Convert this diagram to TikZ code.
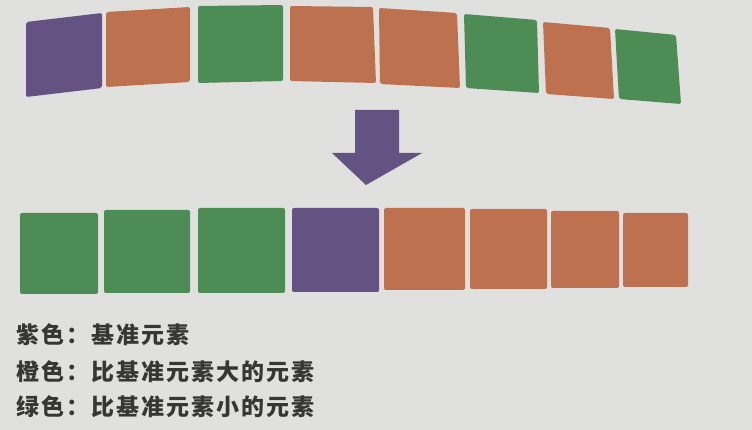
\documentclass[tikz,border=0pt]{standalone}
\usepackage{fontspec}
\newfontfamily\cjk[LetterSpace=9]{Noto Sans CJK SC}
\definecolor{pagegray}{HTML}{E0E0DE}
\definecolor{pivotpurple}{HTML}{635282}
\definecolor{bigorange}{HTML}{BD714E}
\definecolor{smallgreen}{HTML}{4D8C54}
\definecolor{inkgray}{HTML}{363634}
\begin{document}
\begin{tikzpicture}[x=1pt, y=-1pt,
					cell/.style={rounded corners=2pt},
					pivot/.style={cell, fill=pivotpurple},
					big/.style={cell, fill=bigorange},
					small/.style={cell, fill=smallgreen},
					legend/.style={anchor=west, inner sep=0pt, text=inkgray, font=\cjk\bfseries\fontsize{23}{27}\selectfont}]
	% page
	\fill[pagegray] (0,0) rectangle (752,430);
	% row before partition
	\foreach \tl/\tr/\br/\bl/\kind in {
		{26,22}/{102,13}/{102,88}/{26,97}/pivot,
		{106,12}/{190,7}/{190,82}/{106,87}/big,
		{198,6}/{283,5}/{283,81}/{198,83}/small,
		{290,6}/{373,7}/{376,83}/{290,81}/big,
		{379,8}/{457,13}/{460,88}/{380,84}/big,
		{464,14}/{537,20}/{539,93}/{466,88}/small,
		{543,22}/{610,28}/{614,99}/{546,94}/big,
		{615,29}/{676,35}/{681,104}/{619,99}/small}
		\fill[\kind] (\tl) -- (\tr) -- (\br) -- (\bl) -- cycle;
	% arrow
	\coordinate (tip) at (366,185);
	\fill[pivotpurple] (355,110) -- (399,110) -- (399,153) -- (422,153) -- (tip)
		-- (332,153) -- (355,153) -- cycle;
	% row after partition
	\foreach \xa/\xb/\ya/\yb/\kind in {
		20/98/213/294/small,
		104/190/210/293/small,
		198/285/208/293/small,
		292/379/208/292/pivot,
		384/465/208/290/big,
		470/547/209/289/big,
		551/619/211/288/big,
		623/688/213/287/big}
		\fill[\kind] (\xa,\ya) rectangle (\xb,\yb);
	% legend
	\node[legend] (purple) at (16,335) {紫色：基准元素};
	\node[legend] (orange) at (16,372) {橙色：比基准元素大的元素};
	\node[legend] (green) at (16,407) {绿色：比基准元素小的元素};
\end{tikzpicture}
\end{document}
